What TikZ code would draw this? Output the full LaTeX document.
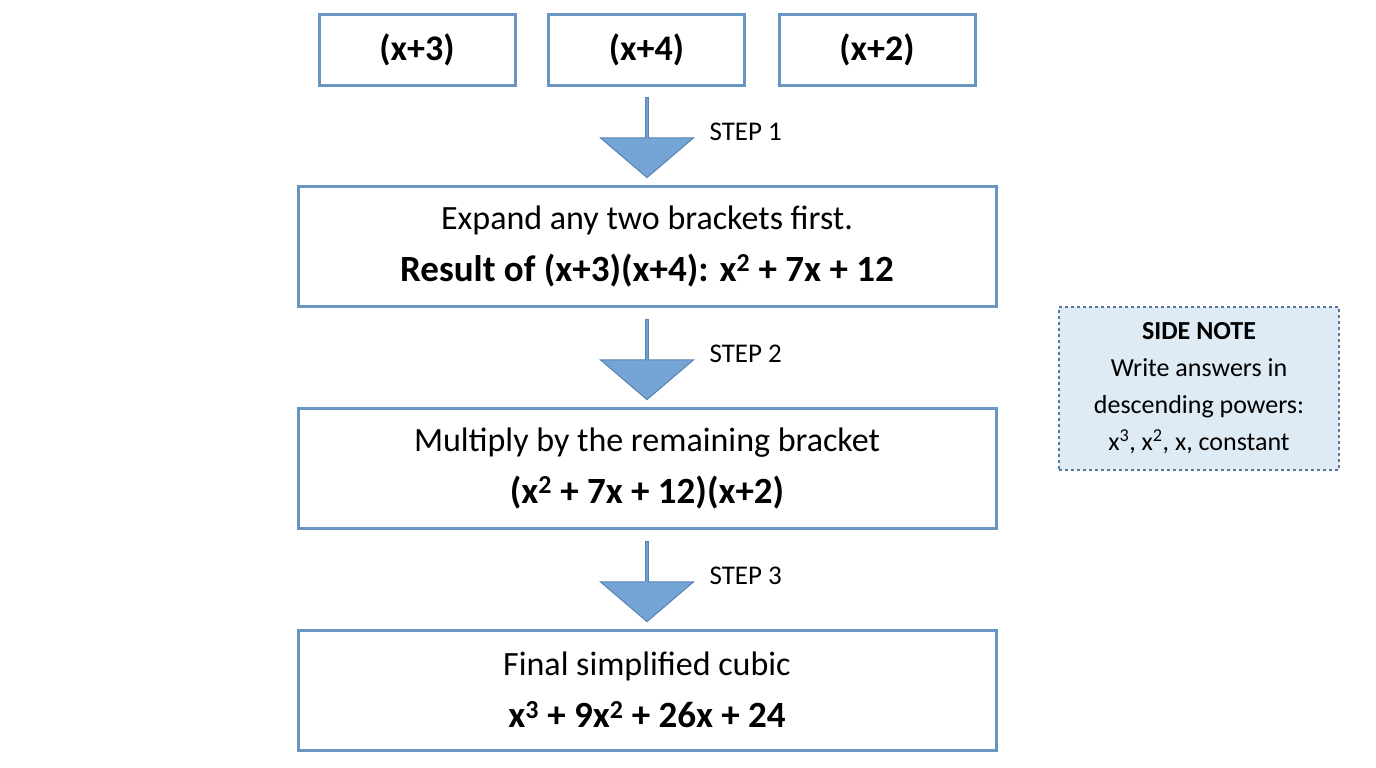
\documentclass[tikz,border=0pt]{standalone}
\usepackage{fontspec}
\setmainfont{Carlito}
\usetikzlibrary{positioning,shapes.arrows,calc}
\definecolor{boxline}{RGB}{104,150,192}
\definecolor{arrowfill}{RGB}{116,165,214}
\definecolor{arrowline}{RGB}{88,130,175}
\definecolor{notefill}{RGB}{222,234,244}
\definecolor{noteline}{RGB}{90,118,150}
\tikzset{
  bracket/.style={draw=boxline, line width=3pt, minimum width=196pt, minimum height=70pt, font=\fontsize{36}{40}\selectfont\bfseries},
  stepbox/.style={draw=boxline, line width=3pt, minimum width=698pt, minimum height=120pt, align=center, font=\fontsize{34}{52}\selectfont},
  steparrow/.style={single arrow, draw=arrowline, fill=arrowfill, line width=1pt, rotate=-90, minimum height=80pt, minimum width=93pt, single arrow head extend=16pt, single arrow tip angle=99, inner sep=0pt},
  steplabel/.style={font=\fontsize{27}{30}\selectfont, anchor=west},
}
\begin{document}
\begin{tikzpicture}[x=1pt,y=-1pt]
\useasboundingbox (0,0) rectangle (1376,768);

%brackets
\node[bracket] (b1) at (417,50) {(x+3)};
\node[bracket] (b2) at (646.5,50) {(x+4)};
\node[bracket] (b3) at (877,50) {(x+2)};

%steps
\node[stepbox] (s1) at (647,246) {Expand any two brackets first.\\
  {\fontsize{37}{40}\selectfont\bfseries Result of (x+3)(x+4): x\textsuperscript{2} + 7x + 12}};
\node[stepbox] (s2) at (647,468) {Multiply by the remaining bracket\\
  {\fontsize{37}{40}\selectfont\bfseries (x\textsuperscript{2} + 7x + 12)(x+2)}};
\node[stepbox] (s3) at (647,690) {Final simplified cubic\\
  {\fontsize{37}{40}\selectfont\bfseries x\textsuperscript{3} + 9x\textsuperscript{2} + 26x + 24}};

%arrows
\node[steparrow] (a1) at (647,137) {};
\node[steparrow] (a2) at (647,359) {};
\node[steparrow] (a3) at (647,581) {};
\node[steplabel] (l1) at (706,132) {STEP 1};
\node[steplabel] (l2) at (706,354) {STEP 2};
\node[steplabel] (l3) at (706,576) {STEP 3};

%side note
\node[draw=noteline, fill=notefill, dashed, line width=1.5pt, minimum width=280pt, minimum height=163pt, align=center, font=\fontsize{26}{37}\selectfont] (note) at (1199,388.5)
  {\textbf{SIDE NOTE}\\Write answers in\\descending powers:\\x\textsuperscript{3}, x\textsuperscript{2}, x, constant};
\end{tikzpicture}
\end{document}
